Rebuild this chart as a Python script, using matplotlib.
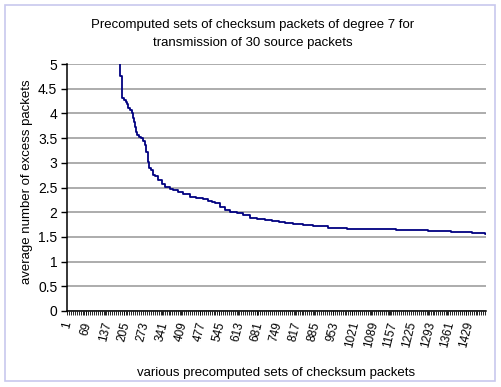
import numpy as np
import matplotlib
matplotlib.use("Agg")
import matplotlib.pyplot as plt
from matplotlib.patches import Rectangle
from matplotlib.ticker import FixedLocator, MultipleLocator

plt.rcParams['font.family'] = ['Liberation Sans', 'DejaVu Sans']

# ---- data: staircase runs (first category of each run, and its value) ----
n_sets = 1500
run_start = [1, 192, 196, 199, 204, 211, 216, 219, 226, 232, 235, 240, 243, 247,
             252, 259, 264, 273, 279, 285, 291, 295, 300, 309, 315, 327, 339,
             351, 369, 381, 398, 416, 440, 464, 488, 506, 518, 530, 548, 566,
             584, 608, 631, 655, 679, 709, 736, 760, 780, 810, 844, 880, 935,
             1004, 1082, 1177, 1294, 1374, 1449, 1496]
run_value = [6.0, 4.76, 4.36, 4.32, 4.27, 4.24, 4.20, 4.10, 4.07, 4.00, 3.90, 3.83,
             3.73, 3.63, 3.56, 3.53, 3.50, 3.44, 3.36, 3.22, 3.02, 2.89, 2.85,
             2.75, 2.73, 2.65, 2.57, 2.52, 2.46, 2.44, 2.40, 2.36, 2.31, 2.28,
             2.26, 2.23, 2.21, 2.18, 2.11, 2.04, 2.01, 1.98, 1.94, 1.89, 1.86,
             1.84, 1.82, 1.80, 1.78, 1.76, 1.74, 1.72, 1.69, 1.67, 1.65, 1.63,
             1.62, 1.60, 1.57, 1.55]
tick_labels = [1, 69, 137, 205, 273, 341, 409, 477, 545, 613, 681, 749, 817, 885,
               953, 1021, 1089, 1157, 1225, 1293, 1361, 1429]

W, H = 502, 387
fig = plt.figure(figsize=(W / 100, H / 100), dpi=100)
fig.patch.set_facecolor('white')
fig.add_artist(Rectangle((5 / W, 6 / H), 490 / W, 376 / H, transform=fig.transFigure,
                         fill=False, edgecolor='#c8c8ee', linewidth=1.2))

ax = fig.add_axes([67 / W, (H - 311) / H, (486 - 67) / W, (311 - 64) / H])
xs = list(run_start) + [n_sets]
ys = list(run_value) + [run_value[-1]]
ax.plot(xs, ys, drawstyle='steps-post', color='#000080', linewidth=1.3, clip_on=True)

ax.set_xlim(0.5, n_sets + 0.5)
ax.set_ylim(0, 5)
ax.set_yticks(np.arange(0, 5.01, 0.5))
ax.set_yticklabels(['0', '0.5', '1', '1.5', '2', '2.5', '3', '3.5', '4', '4.5', '5'],
                   fontsize=10)
ax.yaxis.grid(True, color='#969696', linewidth=1.1)
ax.set_axisbelow(True)

ax.xaxis.set_major_locator(FixedLocator(tick_labels))
ax.set_xticklabels([str(t) for t in tick_labels], rotation=76, fontsize=8.5,
                   ha='center', va='top')
ax.xaxis.set_minor_locator(MultipleLocator(7))
ax.tick_params(axis='x', which='both', length=3, width=0.6, direction='out', pad=4)
ax.tick_params(axis='y', length=4, width=1, direction='out', pad=3)

for s in ['top', 'right']:
    ax.spines[s].set_visible(False)
for s in ['left', 'bottom']:
    ax.spines[s].set_color('black')
    ax.spines[s].set_linewidth(1.1)

fig.text(253 / W, 1 - 25 / H, 'Precomputed sets of checksum packets of degree 7 for',
         ha='center', va='center', fontsize=9.5)
fig.text(253 / W, 1 - 43 / H, 'transmission of 30 source packets',
         ha='center', va='center', fontsize=9.5)
fig.text(276 / W, 1 - 373 / H, 'various precomputed sets of checksum packets',
         ha='center', va='center', fontsize=9.5)
fig.text(27 / W, 1 - 182 / H, 'average number of excess packets', rotation=90,
         ha='center', va='center', fontsize=9.5)

fig.savefig('out.png', dpi=100)
